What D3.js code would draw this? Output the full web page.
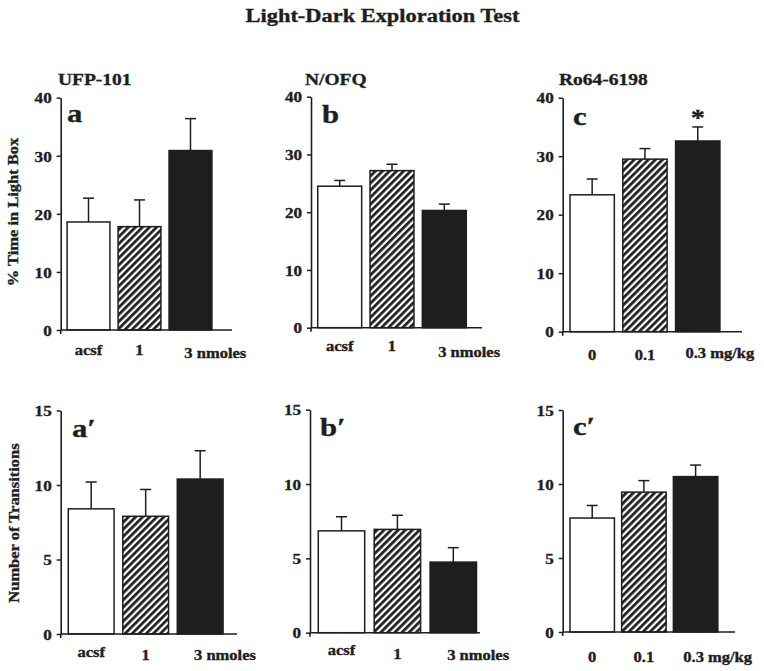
<!DOCTYPE html>
<html>
<head>
<meta charset="utf-8">
<script src="https://cdn.jsdelivr.net/npm/d3@7"></script>
<style>
  html, body { margin: 0; padding: 0; background: #fff; }
  svg { display: block; }
  text { font-family: "Liberation Serif", "Times New Roman", serif; font-weight: bold; fill: #1e1e1e; stroke: #1e1e1e; stroke-width: 0.35px; }
</style>
</head>
<body>
<svg id="chart" width="764" height="671"></svg>
<script>
// ---------------- data ----------------
const chartTitle = "Light-Dark Exploration Test";
const drugNames = ["UFP-101", "N/OFQ", "Ro64-6198"];
const panelLetters = ["a", "b", "c", "a\u2032", "b\u2032", "c\u2032"];
const doseNmol = ["acsf", "1", "3 nmoles"];
const doseMgKg = ["0", "0.1", "0.3 mg/kg"];

// % time in light box (mean, SEM)
const timeUFP = [18.6, 17.8, 30.9];
const timeUFPerr = [4.1, 4.6, 5.5];
const timeNOFQ = [24.5, 27.2, 20.3];
const timeNOFQerr = [1.0, 1.1, 1.1];
const timeRo = [23.4, 29.5, 32.6];
const timeRoErr = [2.7, 1.8, 2.4];

// number of transitions (mean, SEM)
const transUFP = [8.4, 7.9, 10.4];
const transUFPerr = [1.8, 1.8, 1.9];
const transNOFQ = [6.85, 6.95, 4.75];
const transNOFQerr = [0.95, 0.95, 0.97];
const transRo = [7.7, 9.45, 10.5];
const transRoErr = [0.85, 0.78, 0.78];

const timeTicks = [0, 10, 20, 30, 40];
const transTicks = [0, 5, 10, 15];
const timeLabel = "% Time in Light Box";
const transLabel = "Number of Transitions";
const significant = [[], [], [2], [], [], []]; // bar indices marked with *

// ---------------- layout ----------------
const SX = 1.18; // horizontal stretch of the original typeface
const panels = [
  { cats: doseNmol, vals: timeUFP,  errs: timeUFPerr,  ticks: timeTicks,  ax: 60.7, axEnd: 232, band: [62, 217],      pi: 0.16, y0: 330,   yTop: 97.7, title: drugNames[0], titleX: 58,  letterX: 67,  letterY: 122, tickDy: [25, 25, 28] },
  { cats: doseNmol, vals: timeNOFQ, errs: timeNOFQerr, ticks: timeTicks,  ax: 311,  axEnd: 482, band: [312.5, 471.5], pi: 0.16, y0: 327.7, yTop: 96.7, title: drugNames[1], titleX: 305, letterX: 322, letterY: 123, tickDy: [23, 23, 29] },
  { cats: doseMgKg, vals: timeRo,   errs: timeRoErr,   ticks: timeTicks,  ax: 562.7, axEnd: 742, band: [564.7, 725.2], pi: 0.16, y0: 331.7, yTop: 97.7, title: drugNames[2], titleX: 559, letterX: 573, letterY: 125, tickDy: [28, 28, 26] },
  { cats: doseNmol, vals: transUFP, errs: transUFPerr, ticks: transTicks, ax: 60.7, axEnd: 237, band: [62.85, 228.5], pi: 0.16, y0: 634,   yTop: 410.5, letterX: 72,  letterY: 437, tickDy: [23, 26, 26] },
  { cats: doseNmol, vals: transNOFQ, errs: transNOFQerr, ticks: transTicks, ax: 310, axEnd: 480, band: [312.7, 482.1], pi: 0.17, y0: 632.7, yTop: 409.7, letterX: 320, letterY: 436, tickDy: [22, 26, 27] },
  { cats: doseMgKg, vals: transRo,  errs: transRoErr,  ticks: transTicks, ax: 562.7, axEnd: 735, band: [564.8, 723],  pi: 0.14, y0: 632,   yTop: 410, letterX: 573, letterY: 435, tickDy: [30, 30, 30] }
];

const svg = d3.select("#chart");
svg.append("rect").attr("width", 764).attr("height", 671).attr("fill", "#fff");

const defs = svg.append("defs");
const HP = 5;
const pat = defs.append("pattern").attr("id", "hatch")
  .attr("patternUnits", "userSpaceOnUse")
  .attr("width", HP).attr("height", HP)
  .attr("patternTransform", "rotate(45)");
pat.append("rect").attr("width", HP).attr("height", HP).attr("fill", "#fff");
pat.append("line").attr("x1", 1.4).attr("y1", 0).attr("x2", 1.4).attr("y2", HP)
  .attr("stroke", "#1a1a1a").attr("stroke-width", 2.7);

const fills = ["#ffffff", "url(#hatch)", "#1e1e1e"];
const INK = "#1e1e1e";

function stext(g, x, y, s, size, anchor) {
  return g.append("text")
    .attr("transform", `translate(${x},${y}) scale(${SX},1)`)
    .attr("text-anchor", anchor || "start")
    .style("font-size", size + "px")
    .text(s);
}

// measurer for label alignment
const meas = svg.append("text").style("font-size", "13px").attr("opacity", 0);
function textW(s, size) {
  meas.style("font-size", size + "px").text(s);
  return meas.node().getComputedTextLength() * SX;
}

const TICK_FS = 14.5, CAT_FS = 14;

// main title
stext(svg, 382.5, 21.5, chartTitle, 19, "middle");

panels.forEach((p, i) => {
  const g = svg.append("g");
  const y = d3.scaleLinear().domain([0, d3.max(p.ticks)]).range([p.y0, p.yTop]);
  const x = d3.scaleBand().domain(p.cats).range(p.band).paddingInner(p.pi).paddingOuter(0.1);
  const bw = x.bandwidth();

  // error bars
  const eg = g.append("g").attr("stroke", INK).attr("stroke-width", 1.5);
  p.cats.forEach((c, k) => {
    const cx = x(c) + bw / 2;
    eg.append("line").attr("x1", cx).attr("x2", cx).attr("y1", y(p.vals[k])).attr("y2", y(p.vals[k] + p.errs[k]));
    eg.append("line").attr("x1", cx - 5.5).attr("x2", cx + 5.5).attr("y1", y(p.vals[k] + p.errs[k])).attr("y2", y(p.vals[k] + p.errs[k]));
  });

  // bars
  g.selectAll("rect.bar").data(p.cats).join("rect")
    .attr("class", "bar")
    .attr("x", c => x(c))
    .attr("y", (c, k) => y(p.vals[k]))
    .attr("width", bw)
    .attr("height", (c, k) => p.y0 - y(p.vals[k]))
    .attr("fill", (c, k) => fills[k])
    .attr("stroke", INK).attr("stroke-width", 1.5);

  // significance star
  significant[i].forEach(k => {
    const c = p.cats[k];
    stext(g, x(c) + bw / 2, y(p.vals[k] + p.errs[k]) - 2, "*", 24, "middle");
  });

  // x axis line
  g.append("line").attr("x1", p.ax).attr("x2", p.axEnd).attr("y1", p.y0).attr("y2", p.y0)
    .attr("stroke", INK).attr("stroke-width", 1.6);

  // y axis
  const yAxis = d3.axisLeft(y).tickValues(p.ticks).tickSize(4).tickSizeOuter(0).tickPadding(4).tickFormat(d3.format("d"));
  const ag = g.append("g").attr("transform", `translate(${p.ax},0)`).call(yAxis);
  ag.select(".domain").attr("stroke", INK).attr("stroke-width", 1.6);
  ag.selectAll(".tick line").attr("stroke", INK).attr("stroke-width", 1.5);
  ag.selectAll(".tick text")
    .attr("x", -9 / SX).attr("dy", "0.36em")
    .attr("transform", `scale(${SX},1)`)
    .style("font-size", TICK_FS + "px").style("font-family", "'Liberation Serif', 'Times New Roman', serif")
    .style("font-weight", "bold").attr("fill", INK);
  g.append("line").attr("x1", p.ax).attr("x2", p.ax).attr("y1", p.y0).attr("y2", p.y0 + 4)
    .attr("stroke", INK).attr("stroke-width", 1.6);

  // category labels
  p.cats.forEach((c, k) => {
    const cx = x(c) + bw / 2;
    if (k === p.cats.length - 1) {
      const first = c.split(" ")[0];
      const w1 = textW(first, CAT_FS);
      stext(g, cx - w1 / 2 - 2, p.y0 + p.tickDy[k], c, CAT_FS, "start");
    } else {
      stext(g, cx, p.y0 + p.tickDy[k], c, CAT_FS, "middle");
    }
  });

  // panel letter
  stext(g, p.letterX, p.letterY, panelLetters[i], 26, "start");

  // drug title
  if (p.title) stext(g, p.titleX, 85, p.title, 16.5, "start");
});

meas.remove();

// y-axis titles
svg.append("text")
  .attr("transform", `translate(18,212) rotate(-90) scale(1.1,1)`)
  .attr("text-anchor", "middle").style("font-size", "15px").text(timeLabel);
svg.append("text")
  .attr("transform", `translate(18.5,523) rotate(-90) scale(1.1,1)`)
  .attr("text-anchor", "middle").style("font-size", "15px").text(transLabel);
</script>
</body>
</html>
